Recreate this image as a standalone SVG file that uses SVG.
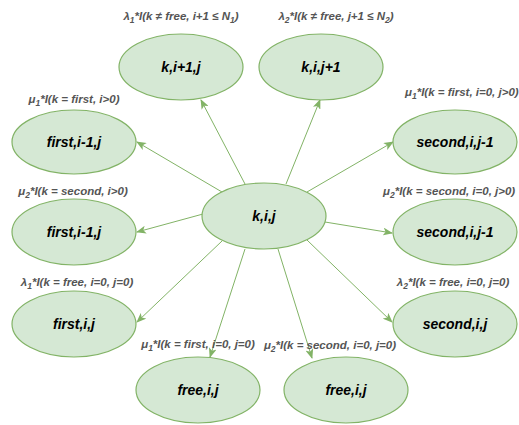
<svg xmlns="http://www.w3.org/2000/svg" width="519" height="425" viewBox="0 0 519 425">
  <defs>
    <marker id="arrow" viewBox="0 0 10 8" refX="9" refY="4" markerWidth="10" markerHeight="8" markerUnits="userSpaceOnUse" orient="auto">
      <path d="M0,0 L10,4 L0,8 L2.5,4 Z" fill="#82b366"/>
    </marker>
  </defs>
  <style>
    .node ellipse { fill: #d5e8d4; stroke: #82b366; stroke-width: 1.2; }
    .node text { font-family: "Liberation Sans", Arial, sans-serif; font-size: 14px; font-weight: bold; font-style: italic; fill: #000; text-anchor: middle; }
    .rate { font-family: "Liberation Sans", Arial, sans-serif; font-size: 11.5px; font-weight: bold; font-style: italic; fill: #555; }
    .rate .sub { font-size: 8.5px; }
    .mid { text-anchor: middle; }
    #connectors line { stroke: #82b366; stroke-width: 1; fill: none; marker-end: url(#arrow); }
  </style>

  <rect width="519" height="425" fill="#ffffff"/>

  <!-- transitions out of the current state -->
  <g id="connectors">
    <line x1="245" y1="184" x2="201" y2="100"/>
    <line x1="286" y1="184" x2="320" y2="100"/>
    <line x1="222" y1="192" x2="137" y2="142"/>
    <line x1="203" y1="214" x2="137" y2="232"/>
    <line x1="222" y1="241" x2="137" y2="322"/>
    <line x1="245" y1="249" x2="210" y2="357"/>
    <line x1="278" y1="249" x2="312" y2="358"/>
    <line x1="307" y1="240" x2="392" y2="322"/>
    <line x1="325" y1="222" x2="392" y2="233"/>
    <line x1="307" y1="192" x2="393" y2="142"/>
  </g>

  <!-- states -->
  <g id="n-center" class="node">
    <ellipse cx="264" cy="216" rx="62" ry="33"/>
    <text x="264" y="221">k,i,j</text>
  </g>
  <g id="n-top-left" class="node">
    <ellipse cx="181" cy="67" rx="62" ry="33"/>
    <text x="181" y="72">k,i+1,j</text>
  </g>
  <g id="n-top-right" class="node">
    <ellipse cx="321" cy="67" rx="62" ry="33"/>
    <text x="321" y="72">k,i,j+1</text>
  </g>
  <g id="n-left-1" class="node">
    <ellipse cx="74" cy="142" rx="62" ry="32"/>
    <text x="74" y="147">first,i-1,j</text>
  </g>
  <g id="n-left-2" class="node">
    <ellipse cx="74" cy="232" rx="62" ry="33"/>
    <text x="74" y="237">first,i-1,j</text>
  </g>
  <g id="n-left-3" class="node">
    <ellipse cx="74" cy="324" rx="62" ry="33"/>
    <text x="74" y="329">first,i,j</text>
  </g>
  <g id="n-right-1" class="node">
    <ellipse cx="455" cy="142" rx="62" ry="32"/>
    <text x="455" y="147">second,i,j-1</text>
  </g>
  <g id="n-right-2" class="node">
    <ellipse cx="455" cy="232" rx="62" ry="33"/>
    <text x="455" y="237">second,i,j-1</text>
  </g>
  <g id="n-right-3" class="node">
    <ellipse cx="455" cy="324" rx="62" ry="33"/>
    <text x="455" y="329">second,i,j</text>
  </g>
  <g id="n-bottom-left" class="node">
    <ellipse cx="198" cy="390" rx="62" ry="33"/>
    <text x="198" y="395">free,i,j</text>
  </g>
  <g id="n-bottom-right" class="node">
    <ellipse cx="346" cy="390" rx="62" ry="33"/>
    <text x="346" y="395">free,i,j</text>
  </g>

  <!-- transition rates -->
  <g id="rates">
    <text class="rate mid" x="181" y="20">λ<tspan class="sub" dy="3">1</tspan><tspan dy="-3">*I(k ≠ free, i+1 ≤ N</tspan><tspan class="sub" dy="3">1</tspan><tspan dy="-3">)</tspan></text>
    <text class="rate mid" x="336" y="20">λ<tspan class="sub" dy="3">2</tspan><tspan dy="-3">*I(k ≠ free, j+1 ≤ N</tspan><tspan class="sub" dy="3">2</tspan><tspan dy="-3">)</tspan></text>
    <text class="rate mid" x="74" y="103">μ<tspan class="sub" dy="3">1</tspan><tspan dy="-3">*I(k = first, i&gt;0)</tspan></text>
    <text class="rate mid" x="73" y="195">μ<tspan class="sub" dy="3">2</tspan><tspan dy="-3">*I(k = second, i&gt;0)</tspan></text>
    <text class="rate mid" x="77" y="286">λ<tspan class="sub" dy="3">1</tspan><tspan dy="-3">*I(k = free, i=0, j=0)</tspan></text>
    <text class="rate" x="405" y="96">μ<tspan class="sub" dy="3">1</tspan><tspan dy="-3">*I(k = first, i=0, j&gt;0)</tspan></text>
    <text class="rate" x="383" y="195">μ<tspan class="sub" dy="3">2</tspan><tspan dy="-3">*I(k = second, i=0, j&gt;0)</tspan></text>
    <text class="rate mid" x="453" y="286">λ<tspan class="sub" dy="3">2</tspan><tspan dy="-3">*I(k = free, i=0, j=0)</tspan></text>
    <text class="rate mid" x="198" y="348">μ<tspan class="sub" dy="3">1</tspan><tspan dy="-3">*I(k = first, i=0, j=0)</tspan></text>
    <text class="rate mid" x="330" y="349">μ<tspan class="sub" dy="3">2</tspan><tspan dy="-3">*I(k = second, i=0, j=0)</tspan></text>
  </g>
</svg>
